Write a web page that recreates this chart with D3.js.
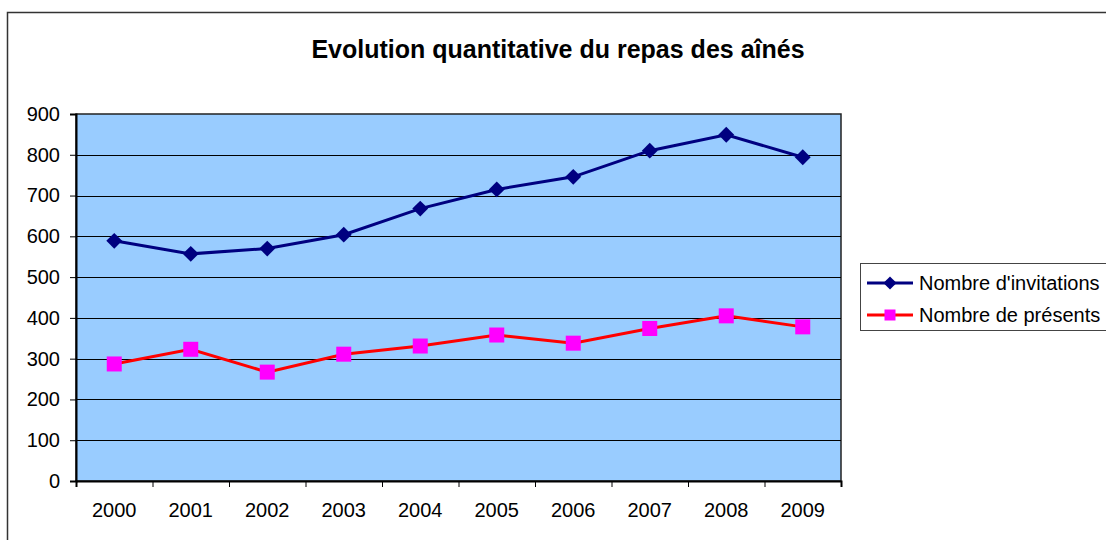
<!DOCTYPE html>
<html>
<head>
<meta charset="utf-8">
<script src="https://cdn.jsdelivr.net/npm/d3@7"></script>
<style>
  body { margin: 0; background: #fff; }
  svg { display: block; font-family: "Liberation Sans", Arial, sans-serif; }
</style>
</head>
<body>
<div id="chart"></div>
<script>
// data
var years = ["2000", "2001", "2002", "2003", "2004", "2005", "2006", "2007", "2008", "2009"]
var invitations = [589, 557, 570, 604, 668, 715, 746, 810, 849, 794]
var presents = [287, 323, 267, 311, 331, 358, 338, 374, 405, 378]
var yTicks = [0, 100, 200, 300, 400, 500, 600, 700, 800, 900]
var seriesNames = ["Nombre d'invitations", "Nombre de présents"]

var width = 1106,
    height = 540
var plot = {left: 76, right: 841, top: 114, bottom: 481}

var svg = d3.select("#chart")
  .append("svg")
    .attr("width", width)
    .attr("height", height)

// outer chart frame (runs off the right and bottom edges)
svg.append("rect")
  .attr("x", 7.5).attr("y", 12.5)
  .attr("width", 1200).attr("height", 600)
  .attr("fill", "none")
  .attr("stroke", "#333")
  .attr("stroke-width", 1.5)

svg.append("text")
  .attr("x", 558).attr("y", 58)
  .attr("text-anchor", "middle")
  .style("font-size", "25px")
  .style("font-weight", "bold")
  .text("Evolution quantitative du repas des aînés")

var x = d3.scaleBand()
  .domain(years)
  .range([plot.left, plot.right])

var xEdge = d3.scaleLinear()
  .domain([0, years.length])
  .range([plot.left, plot.right])

var y = d3.scaleLinear()
  .domain([0, 900])
  .range([plot.bottom, plot.top])

// plot background
svg.append("rect")
  .attr("x", plot.left).attr("y", plot.top)
  .attr("width", plot.right - plot.left)
  .attr("height", plot.bottom - plot.top)
  .attr("fill", "#99ccff")
  .attr("stroke", "#222")
  .attr("stroke-width", 1.5)

// horizontal gridlines
svg.selectAll("line.grid")
  .data(yTicks.filter(function(d) { return d > 0 && d < 900 }))
  .enter()
  .append("line")
    .attr("class", "grid")
    .attr("x1", plot.left).attr("x2", plot.right)
    .attr("y1", function(d) { return Math.round(y(d)) + 0.5 })
    .attr("y2", function(d) { return Math.round(y(d)) + 0.5 })
    .attr("stroke", "#000")
    .attr("stroke-width", 1)

// y axis
var yAxis = svg.append("g")
  .attr("transform", "translate(" + plot.left + ",0)")
  .call(d3.axisLeft(y).tickValues(yTicks).tickSize(6).tickPadding(10))
yAxis.select(".domain").attr("stroke", "#000").attr("stroke-width", 2)
yAxis.selectAll("text").style("font-size", "20px").attr("fill", "#000")

// x axis: ticks on category edges, labels in the middle
var xTickAxis = svg.append("g")
  .attr("transform", "translate(0," + plot.bottom + ")")
  .call(d3.axisBottom(xEdge).tickValues(d3.range(years.length + 1)).tickFormat("").tickSize(6))
xTickAxis.select(".domain").attr("stroke", "#000").attr("stroke-width", 2)

var xLabelAxis = svg.append("g")
  .attr("transform", "translate(0," + plot.bottom + ")")
  .call(d3.axisBottom(x).tickSize(0).tickPadding(22))
xLabelAxis.select(".domain").remove()
xLabelAxis.selectAll("text").style("font-size", "20px").attr("fill", "#000")

var cx = function(d, i) { return x(years[i]) + x.bandwidth() / 2 }

var line = d3.line()
  .x(cx)
  .y(function(d) { return y(d) })

// invitations: navy line with diamonds
svg.append("path")
  .datum(invitations)
  .attr("d", line)
  .attr("fill", "none")
  .attr("stroke", "#000080")
  .attr("stroke-width", 3)

var diamond = d3.symbol().type(d3.symbolDiamond2).size(160)
svg.selectAll("path.inv")
  .data(invitations)
  .enter()
  .append("path")
    .attr("class", "inv")
    .attr("d", diamond)
    .attr("transform", function(d, i) { return "translate(" + cx(d, i) + "," + y(d) + ")" })
    .attr("fill", "#000080")

// presents: red line with magenta squares
svg.append("path")
  .datum(presents)
  .attr("d", line)
  .attr("fill", "none")
  .attr("stroke", "#ff0000")
  .attr("stroke-width", 3)

svg.selectAll("rect.pres")
  .data(presents)
  .enter()
  .append("rect")
    .attr("class", "pres")
    .attr("x", function(d, i) { return cx(d, i) - 7.5 })
    .attr("y", function(d) { return y(d) - 7.5 })
    .attr("width", 15).attr("height", 15)
    .attr("fill", "#ff00ff")

// legend
var legend = svg.append("g")
svg.append("rect")
  .attr("x", 860.5).attr("y", 263.5)
  .attr("width", 300).attr("height", 67)
  .attr("fill", "#fff")
  .attr("stroke", "#444")
  .attr("stroke-width", 1)

var legendRows = [
  {name: seriesNames[0], line: "#000080", y: 283},
  {name: seriesNames[1], line: "#ff0000", y: 315}
]
legend.raise()
legendRows.forEach(function(r, i) {
  legend.append("line")
    .attr("x1", 867).attr("x2", 913)
    .attr("y1", r.y).attr("y2", r.y)
    .attr("stroke", r.line)
    .attr("stroke-width", 3)
  if (i == 0) {
    legend.append("path")
      .attr("d", d3.symbol().type(d3.symbolDiamond2).size(110))
      .attr("transform", "translate(890," + r.y + ")")
      .attr("fill", "#000080")
  } else {
    legend.append("rect")
      .attr("x", 884.5).attr("y", r.y - 5.5)
      .attr("width", 11).attr("height", 11)
      .attr("fill", "#ff00ff")
  }
  legend.append("text")
    .attr("x", 919).attr("y", r.y + 7)
    .style("font-size", "20px")
    .text(r.name)
})
</script>
</body>
</html>
